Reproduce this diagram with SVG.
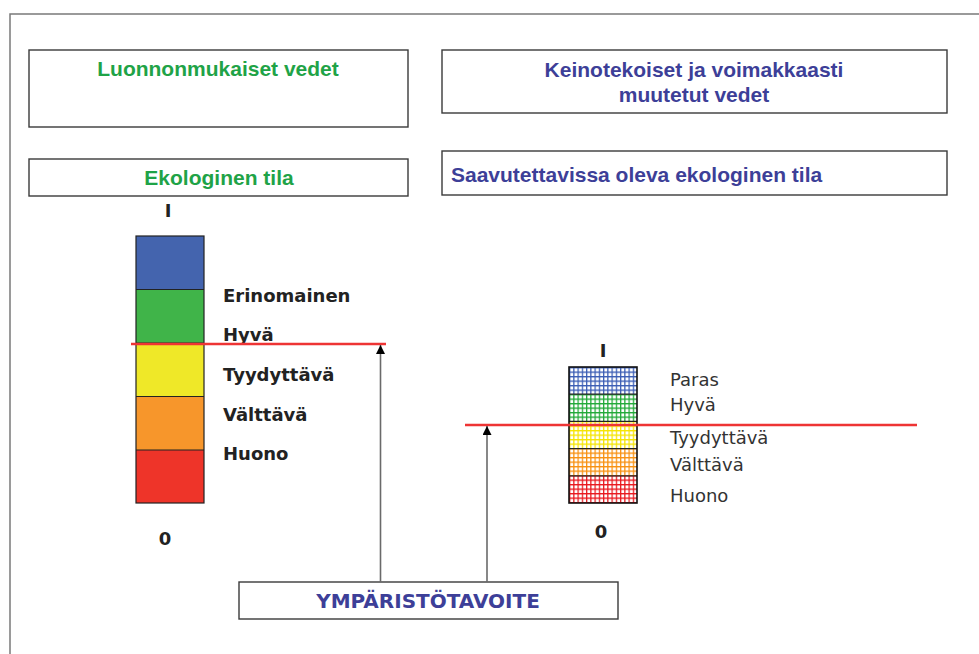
<svg xmlns="http://www.w3.org/2000/svg" width="979" height="654" viewBox="0 0 979 654">
<style>
.box{fill:#fff;stroke:#3a3a3a;stroke-width:1.4}
.hg{font-family:"Liberation Sans",Arial,sans-serif;font-weight:bold;font-size:21px;fill:#1fa347}
.hb{font-family:"Liberation Sans",Arial,sans-serif;font-weight:bold;font-size:21px;fill:#3d3f98}
.lb{font-family:"DejaVu Sans",sans-serif;font-weight:bold;font-size:18px;fill:#222}
.lr{font-family:"DejaVu Sans",sans-serif;font-size:18px;fill:#333}
.seg{stroke:#222;stroke-width:1.2}
.red{stroke:#ee3434;stroke-width:2.5}
.arr{stroke:#6a6a6a;stroke-width:1.6;fill:none;marker-end:url(#ah)}
.gl{stroke-width:1.3;fill:none}
</style>
<defs>
<marker id="ah" viewBox="0 0 9 9" refX="9" refY="4.5" markerWidth="9" markerHeight="9" markerUnits="userSpaceOnUse" orient="auto">
<path d="M0,0 L9,4.5 L0,9 z" fill="#000"/>
</marker>
<pattern id="gB" patternUnits="userSpaceOnUse" x="569" y="367" width="4.25" height="4.5"><rect width="4.25" height="4.5" fill="#fff"/><path class="gl" d="M0.6,0 V4.5 M0,0.6 H4.25" stroke="#3a5cb4"/></pattern>
<pattern id="gG" patternUnits="userSpaceOnUse" x="569" y="367" width="4.25" height="4.5"><rect width="4.25" height="4.5" fill="#fff"/><path class="gl" d="M0.6,0 V4.5 M0,0.6 H4.25" stroke="#1fa836"/></pattern>
<pattern id="gY" patternUnits="userSpaceOnUse" x="569" y="367" width="4.25" height="4.5"><rect width="4.25" height="4.5" fill="#fff"/><path class="gl" d="M0.6,0 V4.5 M0,0.6 H4.25" stroke="#f5e400"/></pattern>
<pattern id="gO" patternUnits="userSpaceOnUse" x="569" y="367" width="4.25" height="4.5"><rect width="4.25" height="4.5" fill="#fff"/><path class="gl" d="M0.6,0 V4.5 M0,0.6 H4.25" stroke="#f8900f"/></pattern>
<pattern id="gR" patternUnits="userSpaceOnUse" x="569" y="367" width="4.25" height="4.5"><rect width="4.25" height="4.5" fill="#fff"/><path class="gl" d="M0.6,0 V4.5 M0,0.6 H4.25" stroke="#e8161c"/></pattern>
</defs>
<rect width="979" height="654" fill="#fff"/>
<g id="frame"><path d="M10,654 V14 H979" fill="none" stroke="#7a7a7a" stroke-width="1.5"/></g>

<g id="node-luonnonmukaiset">
<rect class="box" x="29" y="50" width="379" height="77"/>
<text class="hg" x="218" y="76" text-anchor="middle">Luonnonmukaiset vedet</text>
</g>
<g id="node-keinotekoiset">
<rect class="box" x="442" y="50" width="505" height="63"/>
<text class="hb" x="694" y="77" text-anchor="middle">Keinotekoiset ja voimakkaasti</text>
<text class="hb" x="694" y="102" text-anchor="middle">muutetut vedet</text>
</g>
<g id="node-ekologinen">
<rect class="box" x="29" y="159" width="379" height="37"/>
<text class="hg" x="219" y="185" text-anchor="middle">Ekologinen tila</text>
</g>
<g id="node-saavutettavissa">
<rect class="box" x="442" y="151" width="505" height="44"/>
<text class="hb" x="451" y="182">Saavutettavissa oleva ekologinen tila</text>
</g>

<g id="node-scale-left">
<text class="lb" x="168" y="217" text-anchor="middle">I</text>
<rect x="136" y="236" width="68" height="53.5" fill="#4464ae"/>
<rect x="136" y="289.5" width="68" height="53.5" fill="#40b449"/>
<rect x="136" y="343" width="68" height="53.5" fill="#efe828"/>
<rect x="136" y="396.5" width="68" height="53.5" fill="#f7962b"/>
<rect x="136" y="450" width="68" height="53" fill="#ee3429"/>
<path class="seg" d="M136,289.5 H204 M136,343 H204 M136,396.5 H204 M136,450 H204"/>
<rect x="136" y="236" width="68" height="267" fill="none" stroke="#222" stroke-width="1.2"/>
<text class="lb" x="223" y="302">Erinomainen</text>
<text class="lb" x="223" y="341">Hyvä</text>
<text class="lb" x="223" y="381">Tyydyttävä</text>
<text class="lb" x="223" y="421">Välttävä</text>
<text class="lb" x="223" y="460">Huono</text>
<text class="lb" x="165" y="545" text-anchor="middle">0</text>
</g>

<g id="node-scale-right">
<text class="lb" x="603" y="357" text-anchor="middle">I</text>
<rect x="569" y="367" width="68" height="27.2" fill="url(#gB)"/>
<rect x="569" y="394.2" width="68" height="27.2" fill="url(#gG)"/>
<rect x="569" y="421.4" width="68" height="27.2" fill="url(#gY)"/>
<rect x="569" y="448.6" width="68" height="27.2" fill="url(#gO)"/>
<rect x="569" y="475.8" width="68" height="27.2" fill="url(#gR)"/>
<path class="seg" d="M569,394.2 H637 M569,421.4 H637 M569,448.6 H637 M569,475.8 H637"/>
<rect x="569" y="367" width="68" height="136" fill="none" stroke="#111" stroke-width="1.6"/>
<text class="lr" x="670" y="386">Paras</text>
<text class="lr" x="670" y="411">Hyvä</text>
<text class="lr" x="670" y="444">Tyydyttävä</text>
<text class="lr" x="670" y="471">Välttävä</text>
<text class="lr" x="670" y="502">Huono</text>
<text class="lb" x="601" y="538" text-anchor="middle">0</text>
</g>

<g id="node-ymparistotavoite">
<rect class="box" x="239" y="582" width="379" height="37"/>
<text x="428" y="608" text-anchor="middle" font-family="'DejaVu Sans',sans-serif" font-weight="bold" font-size="20" fill="#3d3f98">YMPÄRISTÖTAVOITE</text>
</g>

<g id="connectors">
<line class="red" x1="131" y1="344" x2="386" y2="344"/>
<line class="red" x1="465" y1="425" x2="917" y2="425"/>
<line class="arr" x1="380.5" y1="582" x2="380.5" y2="345"/>
<line class="arr" x1="487" y1="582" x2="487" y2="426"/>
</g>
</svg>
